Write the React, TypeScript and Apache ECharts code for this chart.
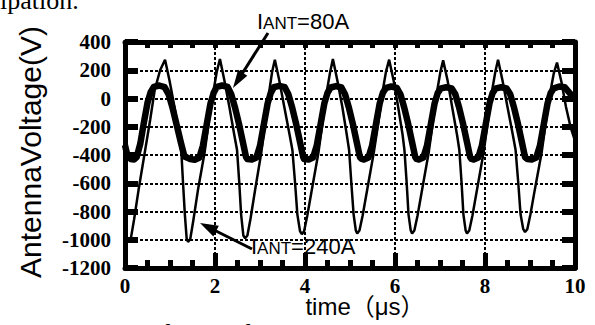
import { useEffect, useRef } from "react";
import * as echarts from "echarts";

// Time axis (µs) and voltage axis (V)
const xTickLabels = [0, 2, 4, 6, 8, 10];
const yTickLabels = [400, 200, 0, -200, -400, -600, -800, -1000, -1200];

// IANT = 240A trace (thin) : [time µs, voltage V]
const trace240A: [number, number][] = [
  [0.0, -985], [0.08, -1010], [0.13, -990], [0.2, -860], [0.3, -650], [0.44, -380], [0.56, -150], [0.66, 60], [0.78, 200], [0.89, 275],
  [0.99, 125], [1.1, -60], [1.2, -250], [1.25, -365], [1.29, -600], [1.33, -820], [1.37, -990], [1.4, -1015],
  [1.45, -995], [1.52, -860], [1.62, -650], [1.77, -380], [1.87, -150], [1.97, 60], [2.04, 190], [2.11, 280],
  [2.21, 125], [2.32, -60], [2.43, -260], [2.49, -365], [2.54, -600], [2.58, -820], [2.63, -970], [2.67, -990],
  [2.72, -970], [2.79, -850], [2.89, -650], [3.03, -380], [3.12, -150], [3.21, 60], [3.27, 190], [3.33, 275],
  [3.43, 125], [3.54, -60], [3.66, -260], [3.72, -365], [3.78, -600], [3.83, -820], [3.89, -940], [3.93, -960],
  [3.98, -940], [4.05, -830], [4.15, -650], [4.3, -380], [4.4, -150], [4.49, 60], [4.56, 190], [4.62, 280],
  [4.72, 125], [4.83, -60], [4.93, -260], [4.98, -365], [5.03, -600], [5.08, -820], [5.13, -935], [5.16, -955],
  [5.21, -935], [5.28, -830], [5.38, -650], [5.53, -380], [5.64, -150], [5.73, 60], [5.8, 190], [5.87, 275],
  [5.97, 125], [6.07, -60], [6.17, -260], [6.21, -365], [6.26, -600], [6.3, -820], [6.35, -935], [6.38, -955],
  [6.43, -935], [6.5, -830], [6.6, -650], [6.75, -380], [6.85, -150], [6.94, 60], [7.01, 190], [7.07, 270],
  [7.17, 125], [7.27, -60], [7.38, -260], [7.43, -365], [7.48, -600], [7.52, -820], [7.57, -935], [7.6, -955],
  [7.65, -935], [7.72, -830], [7.82, -650], [7.97, -380], [8.07, -150], [8.16, 60], [8.23, 190], [8.29, 275],
  [8.39, 125], [8.5, -60], [8.62, -260], [8.68, -365], [8.74, -600], [8.79, -820], [8.85, -925], [8.89, -945],
  [8.94, -925], [9.01, -820], [9.11, -640], [9.26, -380], [9.36, -150], [9.46, 60], [9.53, 180], [9.6, 255],
  [9.7, 115], [9.8, -60], [9.9, -200], [10.0, -300],
];

// IANT = 80A trace (thick) : [time µs, voltage V]
const trace80A: [number, number][] = [
  [0.0, -330], [0.05, -400],
  [0.13, -428], [0.2, -432], [0.26, -415], [0.34, -320], [0.42, -170], [0.5, -30], [0.57, 45], [0.64, 82], [0.76, 92], [0.88, 80], [0.97, 30], [1.06, -70], [1.15, -190], [1.24, -310], [1.32, -410],
  [1.45, -428], [1.55, -434], [1.65, -420], [1.73, -335], [1.82, -175], [1.9, -35], [1.97, 40], [2.04, 82], [2.16, 92], [2.28, 82], [2.36, 30], [2.45, -70], [2.54, -190], [2.62, -310], [2.69, -415],
  [2.72, -428], [2.82, -432], [2.92, -418], [3.0, -335], [3.09, -175], [3.17, -35], [3.24, 40], [3.31, 80], [3.43, 90], [3.55, 80], [3.63, 30], [3.72, -70], [3.81, -190], [3.89, -310], [3.96, -415],
  [3.98, -428], [4.08, -432], [4.18, -418], [4.26, -335], [4.35, -175], [4.43, -35], [4.5, 40], [4.57, 78], [4.69, 88], [4.81, 78], [4.89, 30], [4.98, -70], [5.07, -190], [5.15, -310], [5.22, -415],
  [5.26, -428], [5.31, -432], [5.41, -418], [5.49, -335], [5.58, -175], [5.66, -35], [5.73, 40], [5.8, 75], [5.92, 85], [6.04, 75], [6.12, 30], [6.21, -70], [6.3, -190], [6.38, -310], [6.45, -415],
  [6.48, -428], [6.53, -432], [6.63, -418], [6.71, -335], [6.8, -175], [6.88, -35], [6.95, 40], [7.02, 72], [7.14, 80], [7.26, 72], [7.34, 30], [7.43, -70], [7.52, -190], [7.6, -310], [7.67, -415],
  [7.7, -428], [7.75, -432], [7.85, -418], [7.93, -335], [8.02, -175], [8.1, -35], [8.17, 40], [8.24, 72], [8.36, 80], [8.48, 72], [8.56, 30], [8.65, -70], [8.74, -190], [8.82, -310], [8.89, -415],
  [8.94, -428], [9.04, -432], [9.14, -418], [9.22, -335], [9.31, -175], [9.39, -35], [9.46, 40], [9.53, 72], [9.65, 85], [9.77, 80], [9.85, 50], [9.93, 20], [10.0, -10],
];

const serifFamily = "Liberation Serif";
const sansFamily = "Liberation Sans";

export default function App() {
  const ref = useRef<HTMLDivElement>(null);
  useEffect(() => {
    if (!ref.current) return;
    const chart = echarts.init(ref.current, null, { renderer: "svg" });
    const axisLine = { show: true, onZero: false, lineStyle: { color: "#000", width: 5 } };
    const dotted = { show: true, lineStyle: { color: "#000", width: 2, type: [3, 2] as number[] } };
    const numRich = { n: { fontFamily: serifFamily, fontWeight: 900, fontSize: 21, color: "#000" } };
    const xLabel = {
      show: true,
      margin: 7,
      formatter: (v: number) => (xTickLabels.includes(v) ? `{n|${v}}` : ""),
      rich: numRich,
    };
    const yLabel = {
      show: true,
      margin: 14,
      formatter: (v: number) => (yTickLabels.includes(v) ? `{n|${v}}` : ""),
      rich: numRich,
    };
    const richStyle = {
      a: { fontSize: 22, fontFamily: sansFamily, verticalAlign: "bottom" },
      b: { fontSize: 17, fontFamily: sansFamily, verticalAlign: "bottom" },
    };
    chart.setOption({
      animation: false,
      backgroundColor: "#fff",
      grid: { left: 125, right: 20, top: 42, bottom: 57, outerBoundsMode: "none", containLabel: false },
      xAxis: [
        {
          type: "value", min: 0, max: 10, interval: 2, position: "bottom",
          axisLine, axisLabel: xLabel,
          axisTick: { show: true, inside: true, length: 15, lineStyle: { color: "#000", width: 5 } },
          minorTick: { show: true, splitNumber: 4, length: 8, lineStyle: { color: "#000", width: 5 } },
          splitLine: dotted,
        },
        {
          type: "value", min: 0, max: 10, interval: 2, position: "top",
          axisLine, axisLabel: { show: false },
          axisTick: { show: true, inside: true, length: 6, lineStyle: { color: "#000", width: 5 } },
          minorTick: { show: true, splitNumber: 4, length: 6, lineStyle: { color: "#000", width: 5 } },
          splitLine: { show: false },
        },
      ],
      yAxis: [
        {
          type: "value", min: -1200, max: 400, interval: 200, position: "left",
          axisLine, axisLabel: yLabel,
          axisTick: { show: true, inside: true, length: 13, lineStyle: { color: "#000", width: 6 } },
          splitLine: dotted,
        },
        {
          type: "value", min: -1200, max: 400, interval: 200, position: "right",
          axisLine, axisLabel: { show: false },
          axisTick: { show: true, inside: true, length: 13, lineStyle: { color: "#000", width: 6 } },
          splitLine: { show: false },
        },
      ],
      series: [
        {
          name: "IANT=80A", type: "line", data: trace80A, showSymbol: false, smooth: false,
          lineStyle: { color: "#000", width: 6.5, join: "round" }, z: 3,
        },
        {
          name: "IANT=240A", type: "line", data: trace240A, showSymbol: false, smooth: false,
          lineStyle: { color: "#000", width: 2.5 }, z: 4,
        },
      ],
      graphic: [
        { type: "text", x: 0, y: 13, style: { text: "ipation.", fontSize: 26, fontFamily: serifFamily, fill: "#000", verticalAlign: "bottom" } },
        { type: "text", x: 2, y: 320, style: { text: "1 Voltage waveforms of the antenna operated in parallel with", fontSize: 26, fontFamily: serifFamily, fill: "#000", verticalAlign: "top" } },
        {
          type: "text", x: 30, y: 152, rotation: Math.PI / 2,
          style: { text: "AntennaVoltage(V)", fontSize: 30, fontFamily: sansFamily, fill: "#000", align: "center", verticalAlign: "middle" },
        },
        {
          type: "text", x: 365, y: 306,
          style: { text: "time（μs）", fontSize: 24, fontFamily: "Liberation Sans, Noto Sans CJK JP", fill: "#000", align: "center", verticalAlign: "middle" },
        },
        {
          type: "text", x: 257, y: 21,
          style: { text: "{a|I}{b|ANT}{a|=80A}", fill: "#000", verticalAlign: "middle", rich: richStyle },
        },
        { type: "line", shape: { x1: 268, y1: 33, x2: 240, y2: 77 }, style: { stroke: "#000", lineWidth: 3 } },
        { type: "polygon", shape: { points: [[233, 88], [247.3, 75.8], [238.1, 69.8]] }, style: { fill: "#000" } },
        {
          type: "text", x: 251, y: 246,
          style: { text: "{a|I}{b|ANT}{a|=240A}", fill: "#000", verticalAlign: "middle", rich: richStyle },
        },
        { type: "line", shape: { x1: 252, y1: 249, x2: 214, y2: 230 }, style: { stroke: "#000", lineWidth: 3 } },
        { type: "polygon", shape: { points: [[200, 223], [218.8, 225.7], [213.4, 236.4]] }, style: { fill: "#000" } },
      ],
    });
    return () => chart.dispose();
  }, []);
  return <div ref={ref} style={{ position: "absolute", left: 0, top: 0, width: 595, height: 325 }} />;
}
